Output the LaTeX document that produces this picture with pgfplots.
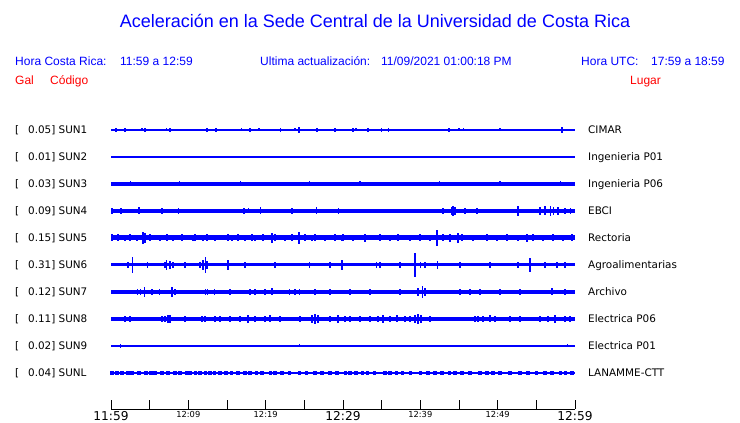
\documentclass[border=0pt]{standalone}
\usepackage{fontspec}
\setmainfont{Liberation Sans}
\newfontfamily\dejavu{DejaVu Sans}
\usepackage{pgfplots}
\pgfplotsset{compat=1.18}
\definecolor{tblue}{RGB}{0,0,255}
\definecolor{tred}{RGB}{255,0,0}
\newcommand{\TL}[1]{\mbox{\dejavu\fontsize{12.2}{13}\selectfont #1}}
\newcommand{\TS}[1]{\mbox{\dejavu\fontsize{8.3}{9}\selectfont #1}}
\pgfplotsset{
  base/.style={tblue, line width=#1, mark=none},
  spk/.style={draw=none, mark=none, error bars/.cd, y dir=both, y explicit, error mark=none,
     error bar style={draw=tblue, line width=#1}},
}
\begin{document}
\begin{tikzpicture}[x=1pt,y=1pt]
\useasboundingbox (0,0) rectangle (740,423);
% header texts
\node[anchor=base, inner sep=0, text=tblue, font=\fontsize{18}{20}\selectfont] at (375,395) {Aceleración en la Sede Central de la Universidad de Costa Rica};
\begin{scope}[every node/.style={anchor=base west, inner sep=0, font=\fontsize{12}{14}\selectfont}]
\node[text=tblue] at (15,357) {Hora Costa Rica:};
\node[text=tblue] at (120,357) {11:59 a 12:59};
\node[text=tblue] at (260,357) {Ultima actualización:};
\node[text=tblue] at (381,357) {11/09/2021 01:00:18 PM};
\node[text=tblue] at (581,357) {Hora UTC:};
\node[text=tblue] at (651,357) {17:59 a 18:59};
\node[text=tred] at (15,338.5) {Gal};
\node[text=tred] at (50,338.5) {Código};
\node[text=tred] at (630,338.5) {Lugar};
\end{scope}
% station labels
\begin{scope}[every node/.style={anchor=base west, inner sep=0, font=\dejavu\fontsize{10.4}{12}\selectfont}]
\node at (15,289) {[}; \node at (28,289) {0.05] SUN1}; \node at (588,289) {CIMAR};
\node at (15,262) {[}; \node at (28,262) {0.01] SUN2}; \node at (588,262) {Ingenieria P01};
\node at (15,235) {[}; \node at (28,235) {0.03] SUN3}; \node at (588,235) {Ingenieria P06};
\node at (15,208) {[}; \node at (28,208) {0.09] SUN4}; \node at (588,208) {EBCI};
\node at (15,181) {[}; \node at (28,181) {0.15] SUN5}; \node at (588,181) {Rectoria};
\node at (15,154) {[}; \node at (28,154) {0.31] SUN6}; \node at (588,154) {Agroalimentarias};
\node at (15,127) {[}; \node at (28,127) {0.12] SUN7}; \node at (588,127) {Archivo};
\node at (15,100) {[}; \node at (28,100) {0.11] SUN8}; \node at (588,100) {Electrica P06};
\node at (15,73) {[}; \node at (28,73) {0.02] SUN9}; \node at (588,73) {Electrica P01};
\node at (15,46) {[}; \node at (28,46) {0.04] SUNL}; \node at (588,46) {LANAMME-CTT};
\end{scope}
\begin{axis}[at={(111pt,14pt)}, anchor=south west, scale only axis,
  width=464pt, height=296pt, xmin=0, xmax=60, ymin=14, ymax=310,
  axis x line=bottom, axis y line=none, clip=false,
  x axis line style={-, black, line width=0.9pt},
  xtick={0,5,...,60},
  xticklabels={\TL{11:59},,\TS{12:09},,\TS{12:19},,\TL{12:29},,\TS{12:39},,\TS{12:49},,\TL{12:59}},
  xticklabel style={anchor=north, inner sep=0pt, yshift=-2pt},
  tick align=inside, major tick length=9pt,
  tick style={black, line width=0.9pt},
]
% SUN1
\addplot[base=1.2pt] coordinates {(0,293) (60,293)};
\addplot[spk=1.6pt] table[x=t, y expr=293, y error=a] {
t a
0.65 2
1.8 2
4.0 1.5
4.4 2
7.2 1.5
7.6 2
12.4 2
13.6 2
16.9 1.5
18.0 2
19.1 1.5
21.9 2
23.8 1.5
24.3 3
26.6 2
29.0 2
31.3 2
31.7 1.5
33.2 2
35.0 2
35.9 2
43.7 2
45.0 1.5
45.6 1.5
50.3 1.5
58.3 3
};
% SUN2
\addplot[base=1.2pt] coordinates {(0,266) (60,266)};
% SUN3
\addplot[base=4pt] coordinates {(0,239) (60,239)};
\addplot[spk=1.2pt] table[x=t, y expr=239, y error=a] {
t a
2.5 2.5
8.9 2.5
16.7 2.5
25.7 2.5
32.2 2.5
42.5 2.5
50.3 2.5
58.1 2.5
};
% SUN4
\addplot[base=3.3pt] coordinates {(0,212) (60,212)};
\addplot[spk=1.5pt] table[x=t, y expr=212, y error=a] {
t a
0.13 3
1.3 3
3.6 3.5
6.6 3
8.7 3
17.2 3
17.8 2.5
19.3 3.5
23.4 3
26.6 3.5
29.4 3
42.9 3
44.0 4
44.2 5
44.5 4
45.8 3
47.3 3
52.6 5
55.5 4
56.1 4.5
56.8 5
57.2 4
57.8 4
58.7 3
59.4 3
};
% SUN5
\addplot[base=5pt] coordinates {(0,185) (60,185)};
\addplot[spk=2pt] table[x=t, y expr=185, y error=a] {
t a
0.13 3.5
0.9 3.5
1.8 3
2.5 3.5
3.4 3
4.1 6
4.4 5
5.0 3.5
6.3 3
7.2 3.5
8.0 3
9.2 3.5
10.6 3
10.9 3.5
11.9 3
12.4 3.5
13.4 3
15.1 3.5
15.6 3
16.4 3.5
17.3 3
18.2 3.5
18.6 3
19.7 3.5
20.8 5
21.2 3.5
22.5 3
23.4 3.5
24.3 6
25.1 3.5
26.0 3
26.4 3.5
27.7 3
29.0 3.5
29.9 3
30.0 3.5
31.3 3
32.8 4
34.8 3.5
36.1 3
37.1 3.5
38.7 3
40.0 3.5
41.3 3
42.2 8
42.9 3.5
43.8 4
44.9 5
45.4 3.5
46.8 3
48.6 3.5
49.9 3
51.2 3.5
52.6 3
53.8 4
54.6 3.5
55.9 3
57.2 3.5
58.5 3
59.6 3.5
};
% SUN6
\addplot[base=3pt] coordinates {(0,158) (60,158)};
\addplot[spk=1.5pt] table[x=t, y expr=158, y error=a] {
t a
2.2 3
2.8 8
4.7 3
7.0 3
7.2 5
7.6 4
8.0 3
9.6 3
11.5 3
11.9 5
12.2 8
12.4 4
15.1 5
17.3 3
21.2 3
25.7 3
28.3 3
29.9 5
34.3 3
34.8 3
37.4 3
39.3 12
40.0 3
40.6 3
42.2 4
45.1 3
49.0 3
52.6 3
54.2 7
56.1 3
57.7 3
58.7 3
};
% SUN7
\addplot[base=3.3pt] coordinates {(0,131) (60,131)};
\addplot[spk=1.5pt] table[x=t, y expr=131, y error=a] {
t a
3.4 3
3.8 3
4.3 5
5.3 3
6.3 3
7.9 5
8.3 3
12.2 3
12.5 3
13.4 3
15.4 3
18.0 3
18.6 3
19.9 3
20.8 3.5
23.1 3
23.8 3
24.4 3
26.4 3
28.3 3
30.9 3
33.5 3
37.4 3
39.7 4
40.3 6
40.6 4
45.1 3
46.4 3
47.7 3
50.3 3
52.9 3
57.0 3.5
58.7 3
};
% SUN8
\addplot[base=3.5pt] coordinates {(0,104) (60,104)};
\addplot[spk=1.8pt] table[x=t, y expr=104, y error=a] {
t a
1.8 3
2.5 3
6.6 3
7.0 3
7.4 4
7.6 4
9.6 3
11.8 3
12.2 3
13.4 3
14.1 3
15.4 3
16.7 3
17.7 4
18.6 3
19.9 3
20.6 3.5
21.9 3
24.4 3
26.0 4
26.4 5
26.8 4
28.3 3
29.4 4
30.3 3
30.9 3
32.2 3
33.5 3
34.5 3
35.2 4
36.1 3
37.0 3.5
38.0 3
38.7 3
39.3 4
39.7 5
40.1 4
41.3 3
47.1 3
47.5 3
48.1 3
49.0 3.5
49.7 3
51.6 3
52.9 3
55.5 3
56.5 3
57.4 4
58.7 3
59.4 3
};
% SUN9
\addplot[base=1.2pt] coordinates {(0,77) (60,77)};
\addplot[spk=1.2pt] table[x=t, y expr=77, y error=a] {
t a
1.2 2
24.4 1.5
59.0 1.5
};
% SUNL
\addplot[base=1.2pt] coordinates {(0,50) (60,50)};
\addplot[spk=3.5pt] table[x=t, y expr=50, y error=a] {
t a
0.1 2
0.8 2
1.4 2
2.2 2
2.7 2
3.6 2
4.5 2
5.2 2
5.7 2
6.6 2
7.4 2
8.3 2
8.9 2
9.8 2
10.3 2
10.9 2
11.5 2
12.2 2
12.8 2
13.4 2
14.1 2
14.9 2
15.6 2
16.4 2
17.3 2
18.0 2
18.8 2
19.5 2
20.6 2
21.2 2
22.1 2
23.1 2
24.4 2
25.3 2
26.4 2
27.3 2
28.3 2
29.2 2
30.3 2
30.9 2
31.7 2
32.5 2
33.2 2
34.1 2
35.4 2
36.1 2
36.9 2
37.7 2
38.7 2
40.0 2
41.0 2
41.9 2
42.8 2
43.8 2
44.5 2
45.4 2
46.4 2
47.7 2
48.6 2
49.4 2
50.3 2
51.6 2
52.9 2
53.9 2
55.0 2
56.1 2
57.0 2
58.1 2
58.8 2
59.6 2
};
\end{axis}
\end{tikzpicture}
\end{document}
